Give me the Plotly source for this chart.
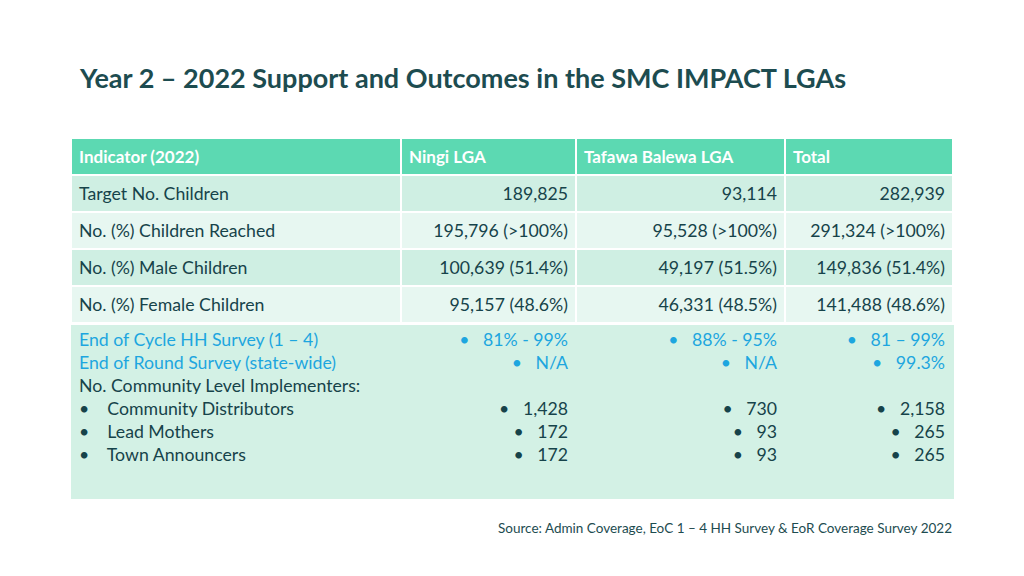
import plotly.graph_objects as go

W, H = 1024, 576

title = "Year 2 – 2022 Support and Outcomes in the SMC IMPACT LGAs"
source = "Source: Admin Coverage, EoC 1 – 4 HH Survey & EoR Coverage Survey 2022"

headers = ["Indicator (2022)", "Ningi LGA", "Tafawa Balewa LGA", "Total"]

indicators = ["Target No. Children", "No. (%) Children Reached",
              "No. (%) Male Children", "No. (%) Female Children"]
ningi = ["189,825", "195,796 (>100%)", "100,639 (51.4%)", "95,157 (48.6%)"]
tafawa = ["93,114", "95,528 (>100%)", "49,197 (51.5%)", "46,331 (48.5%)"]
total = ["282,939", "291,324 (>100%)", "149,836 (51.4%)", "141,488 (48.6%)"]

survey_labels = ["End of Cycle HH Survey (1 – 4)", "End of Round Survey (state-wide)"]
impl_heading = "No. Community Level Implementers:"
impl_labels = ["Community Distributors", "Lead Mothers", "Town Announcers"]

survey_ningi = ["81% - 99%", "N/A"]
survey_tafawa = ["88% - 95%", "N/A"]
survey_total = ["81 – 99%", "99.3%"]
impl_ningi = ["1,428", "172", "172"]
impl_tafawa = ["730", "93", "93"]
impl_total = ["2,158", "265", "265"]

BLUE = "#1DA6DF"
DARK = "#16434A"
NB = "\u00a0"
FONT = "Lato"
FS = 17.7


def esc(s):
    return s.replace(">", "&gt;")


def span(s):
    return f"<span>{esc(s)}</span>"


def left_lines():
    return survey_labels + [impl_heading] + [f"•{NB*4}{s}" for s in impl_labels]


def right_lines(survey, impl):
    return [f"•{NB*3}{s}" for s in survey] + [NB] + [f"•{NB*3}{s}" for s in impl]


line_colors = [BLUE] * len(survey_labels) + [DARK] * (1 + len(impl_labels))

row_fill = ["#CFEFE3", "#E7F7F1", "#CFEFE3", "#E7F7F1"]
LAST_FILL = "#D3F1E5"


def ypx(top, bottom):
    return [1 - bottom / H, 1 - top / H]


X = [71 / W, 953 / W]
colw = [330, 175, 209, 168]
aligns = ["left", "right", "right", "right"]

main = go.Table(
    domain=dict(x=X, y=ypx(138, 323)),
    columnwidth=colw,
    header=dict(
        values=[f"<b>{h}</b>" for h in headers],
        fill_color="#5CD9B2",
        line=dict(color="white", width=2),
        align="left",
        font=dict(family=FONT, size=17, color="white"),
        height=36,
    ),
    cells=dict(
        values=[[span(v) for v in col] for col in (indicators, ningi, tafawa, total)],
        fill_color=[row_fill] * 4,
        line=dict(color="white", width=2),
        align=aligns,
        font=dict(family=FONT, size=FS, color=DARK),
        height=37,
    ),
)

cols_b = [left_lines(),
          right_lines(survey_ningi, impl_ningi),
          right_lines(survey_tafawa, impl_tafawa),
          right_lines(survey_total, impl_total)]

lines_table = go.Table(
    domain=dict(x=X, y=ypx(325, 463)),
    columnwidth=colw,
    header=dict(
        values=[c[0] for c in cols_b],
        fill_color=LAST_FILL,
        line=dict(color=LAST_FILL, width=1),
        align=aligns,
        font=dict(family=FONT, size=FS, color=BLUE),
        height=23,
    ),
    cells=dict(
        values=[c[1:] for c in cols_b],
        fill_color=LAST_FILL,
        line=dict(color=LAST_FILL, width=1),
        align=aligns,
        font=dict(family=FONT, size=FS, color=[line_colors[1:]] * 4),
        height=23,
    ),
)

bottom_strip = go.Table(
    domain=dict(x=X, y=ypx(462, 500)),
    columnwidth=colw,
    header=dict(
        values=[NB] * 4,
        fill_color=LAST_FILL,
        line=dict(color=LAST_FILL, width=1),
        font=dict(family=FONT, size=FS, color=DARK),
        height=38,
    ),
)

fig = go.Figure([main, lines_table, bottom_strip])

fig.update_layout(
    width=W, height=H,
    margin=dict(l=0, r=0, t=0, b=0),
    paper_bgcolor="white",
    annotations=[
        dict(text=f"<b>{title}</b>", x=77 / W, y=1 - 78 / H, xref="paper", yref="paper",
             xanchor="left", yanchor="middle", showarrow=False,
             font=dict(family=FONT, size=27, color="#1D4C50")),
        dict(text=source, x=954 / W, y=1 - 528 / H, xref="paper", yref="paper",
             xanchor="right", yanchor="middle", showarrow=False,
             font=dict(family=FONT, size=13.5, color="#1D4C50")),
    ],
)

fig.write_html("out.html", config={"displayModeBar": False},
               post_script="document.body.style.margin='0';")
